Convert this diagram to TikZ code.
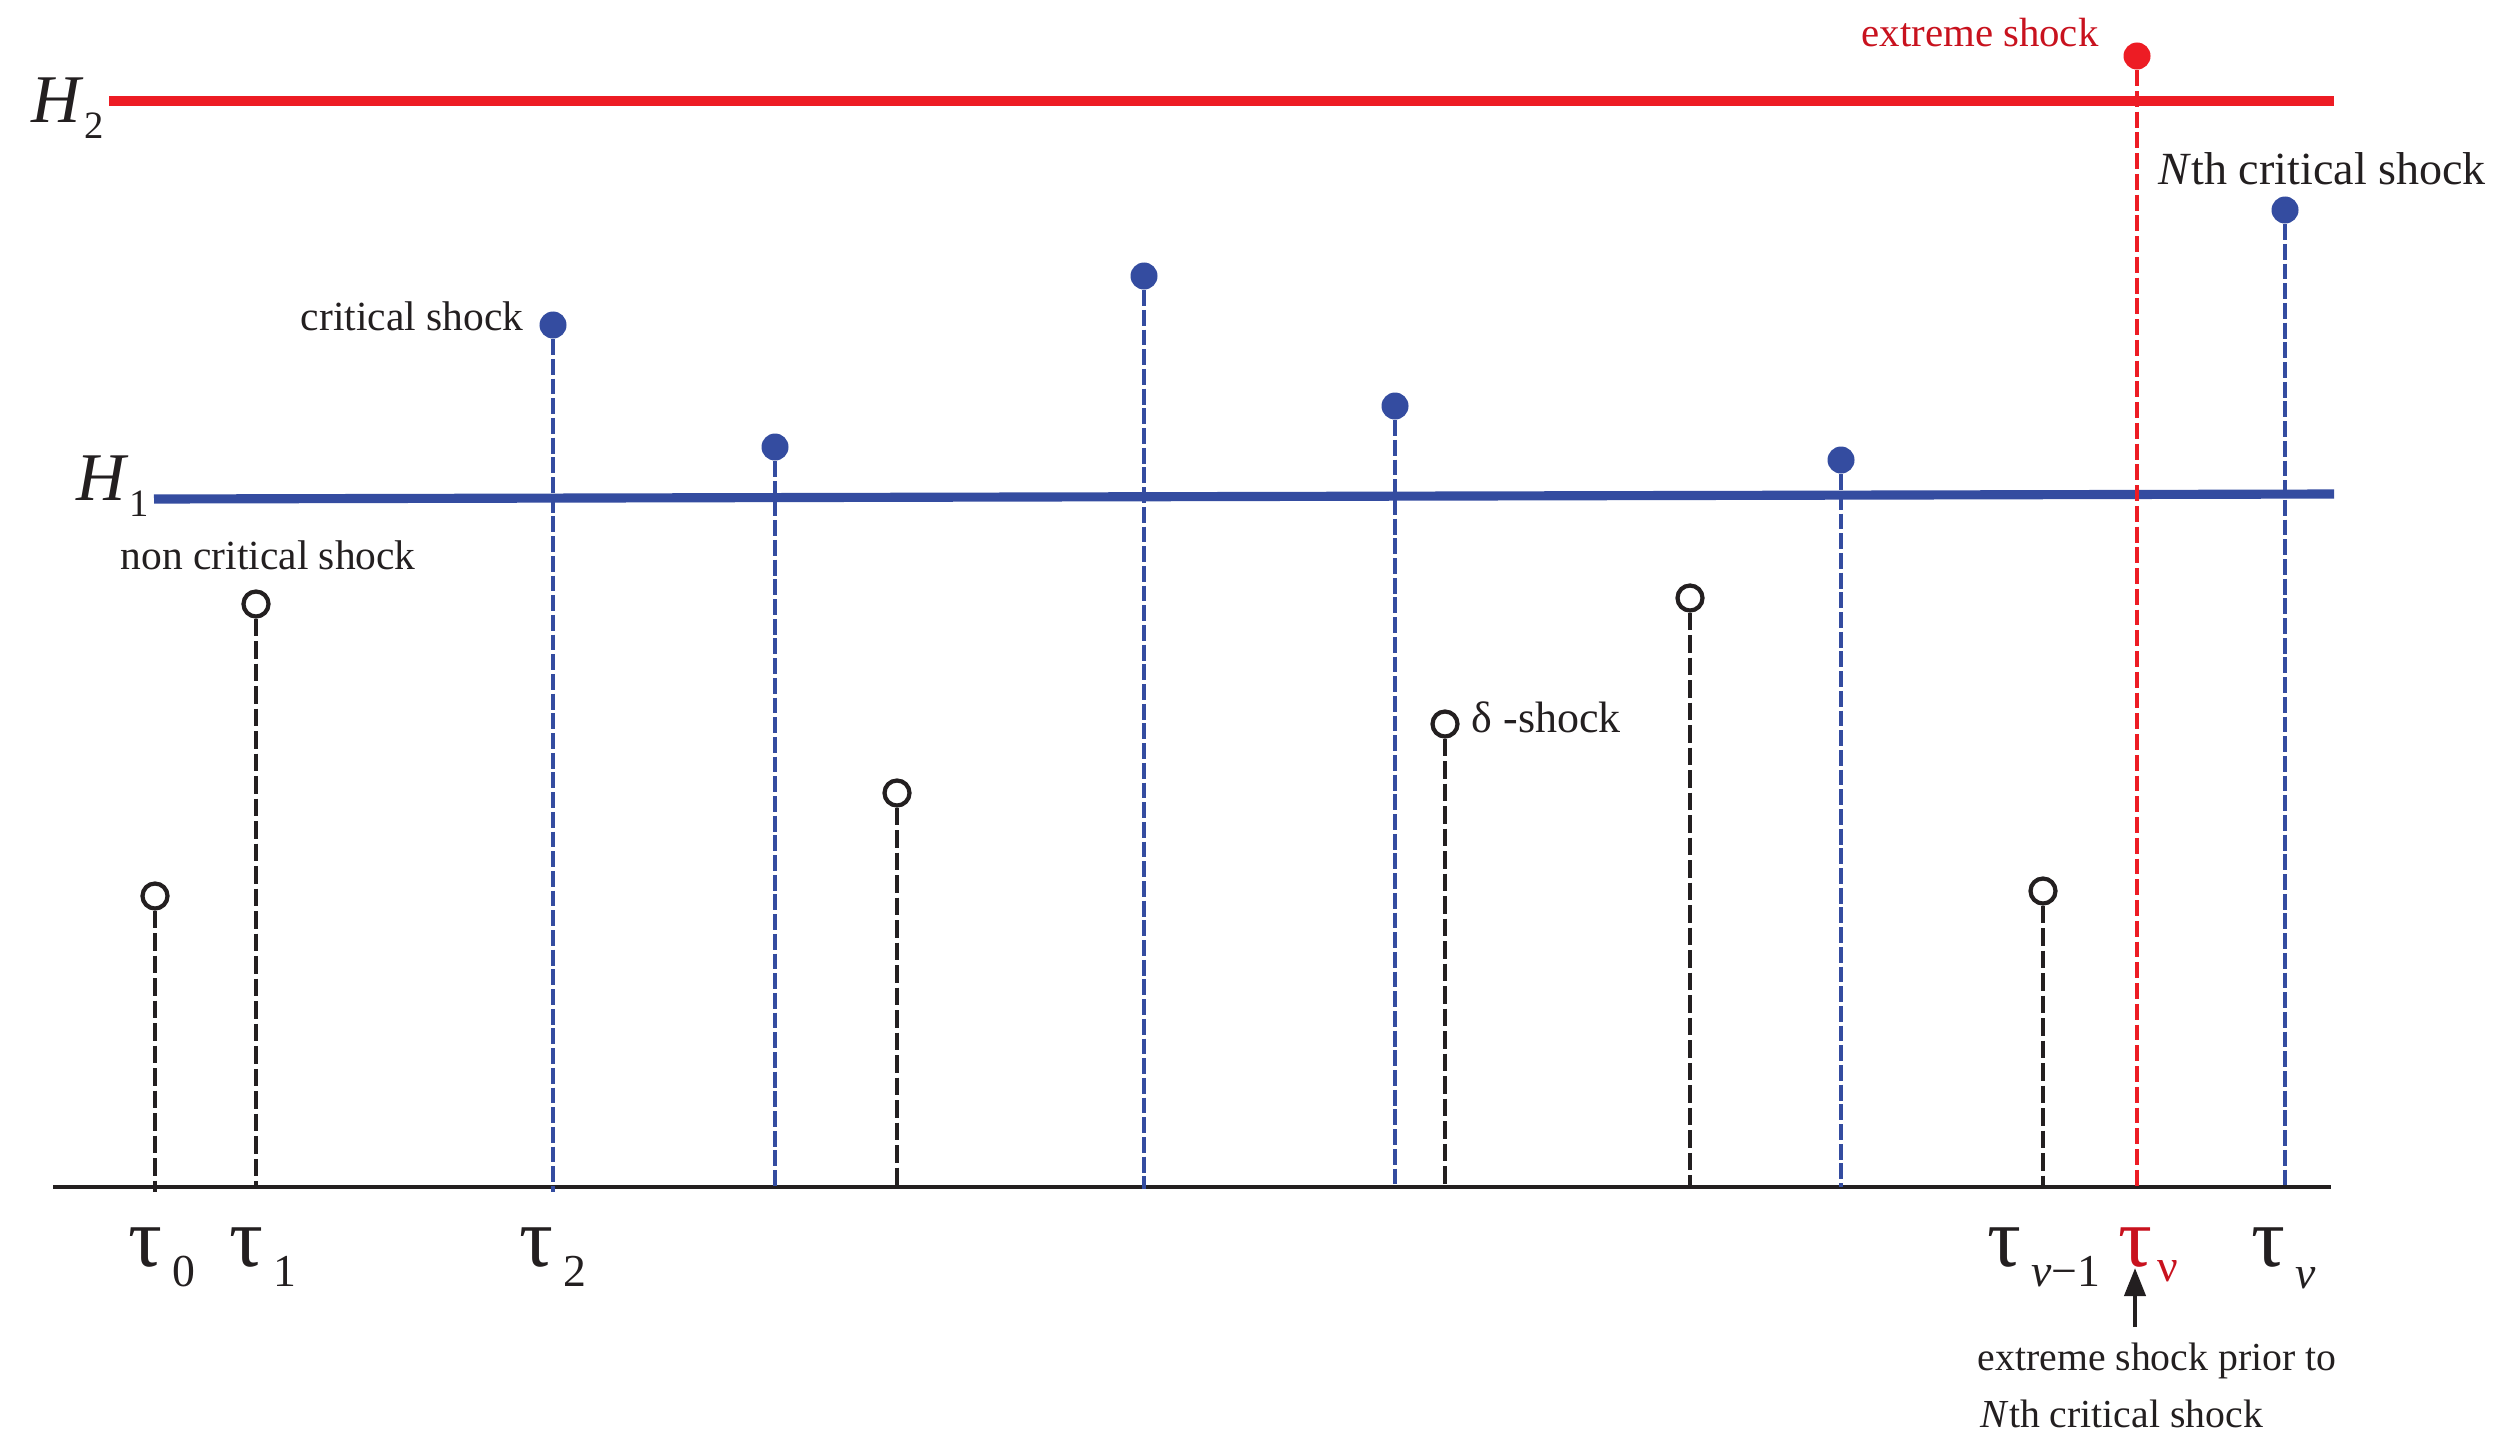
\documentclass[tikz,border=0pt]{standalone}
\usepackage{fontspec}
\setmainfont{Liberation Serif}
\usetikzlibrary{arrows.meta}
\definecolor{hred}{RGB}{237,28,36}
\definecolor{tred}{RGB}{200,18,30}
\definecolor{hblue}{RGB}{52,76,160}
\definecolor{ink}{RGB}{35,31,32}
\newcommand\fsz[1]{\fontsize{#1}{#1}\selectfont}
\begin{document}
\begin{tikzpicture}[x=0.01cm,y=-0.01cm,
  txt/.style={inner sep=0pt, anchor=base west, text=ink, font=\fsz{11.8}},
  dotopen/.style={circle, draw=ink, line width=1.2pt, fill=white, minimum size=0.25cm, inner sep=0pt},
  dotblue/.style={circle, fill=hblue, minimum size=0.27cm, inner sep=0pt},
  dotred/.style={circle, fill=hred, minimum size=0.27cm, inner sep=0pt},
  stemblack/.style={line width=1.4pt, dash pattern=on 5pt off 1.4pt, ink},
  stemblue/.style={line width=1pt, dash pattern=on 4.5pt off 1.1pt, hblue},
  stemred/.style={line width=1.2pt, dash pattern=on 4.5pt off 1.4pt, hred},
  level/.style={line width=2.6pt},
  ]
\useasboundingbox (0,0) rectangle (2512,1451);

% threshold levels
\coordinate (h2L) at (109,101);
\coordinate (h2R) at (2334,101);
\coordinate (h1L) at (154,499);
\coordinate (h1R) at (2334,494);
\draw[level, hred] (h2L) -- (h2R);
\draw[level, hblue] (h1L) -- (h1R);

% time axis
\coordinate (axL) at (53,1187);
\coordinate (axR) at (2331,1187);
\draw[line width=1.1pt, ink] (axL) -- (axR);

% shocks
\node[dotopen] (d1) at (155,896) {};
\coordinate (b1) at (155,1192);
\draw[stemblack] (d1.south) -- (b1);

\node[dotopen] (d2) at (256,604) {};
\coordinate (b2) at (256,1189);
\draw[stemblack] (d2.south) -- (b2);

\node[dotblue] (d3) at (553,325) {};
\coordinate (b3) at (553,1192);
\draw[stemblue] (d3.south) -- (b3);

\node[dotblue] (d4) at (775,447) {};
\coordinate (b4) at (775,1187);
\draw[stemblue] (d4.south) -- (b4);

\node[dotopen] (d5) at (897,793) {};
\coordinate (b5) at (897,1187);
\draw[stemblack] (d5.south) -- (b5);

\node[dotblue] (d6) at (1144,276) {};
\coordinate (b6) at (1144,1189);
\draw[stemblue] (d6.south) -- (b6);

\node[dotblue] (d7) at (1395,406) {};
\coordinate (b7) at (1395,1187);
\draw[stemblue] (d7.south) -- (b7);

\node[dotopen] (d8) at (1445,724) {};
\coordinate (b8) at (1445,1187);
\draw[stemblack] (d8.south) -- (b8);

\node[dotopen] (d9) at (1690,598) {};
\coordinate (b9) at (1690,1187);
\draw[stemblack] (d9.south) -- (b9);

\node[dotblue] (d10) at (1841,460) {};
\coordinate (b10) at (1841,1187);
\draw[stemblue] (d10.south) -- (b10);

\node[dotopen] (d11) at (2043,891) {};
\coordinate (b11) at (2043,1187);
\draw[stemblack] (d11.south) -- (b11);

\node[dotred] (d12) at (2137,56) {};
\coordinate (b12) at (2137,1187);
\draw[stemred] (d12.south) -- (b12);

\node[dotblue] (d13) at (2285,210) {};
\coordinate (b13) at (2285,1189);
\draw[stemblue] (d13.south) -- (b13);

% level labels
\node[txt, font=\fsz{19.4}] (lH2) at (31,122) {\textit{H}\raisebox{-0.16cm}{\fsz{11}2}};
\node[txt, font=\fsz{19.4}] (lH1) at (76,500) {\textit{H}\raisebox{-0.16cm}{\fsz{11}1}};

% shock labels
\node[txt, anchor=base east] (lcrit) at (524,330) {critical shock};
\node[txt] (lnon) at (120,569) {non critical shock};
\node[txt, font=\fsz{12.5}] (ldelta) at (1471,732) {δ -shock};
\node[txt, text=tred, font=\fsz{11.6}] (lext) at (1861,46) {extreme shock};
\node[txt, font=\fsz{13.1}] (lnth) at (2158,184) {\textit{N}th critical shock};
\node[txt, font=\fsz{11.3}] (lprior) at (1977,1370) {extreme shock prior to};
\node[txt, font=\fsz{11.3}] (lprior2) at (1980,1427) {\textit{N}th critical shock};

% time labels
\node[txt, font=\fsz{24}] (t0) at (128,1266) {τ\hspace{0.1cm}\raisebox{-0.2cm}{\fsz{13}0}};
\node[txt, font=\fsz{24}] (t1) at (229,1266) {τ\hspace{0.1cm}\raisebox{-0.2cm}{\fsz{13}1}};
\node[txt, font=\fsz{24}] (t2) at (519,1266) {τ\hspace{0.1cm}\raisebox{-0.2cm}{\fsz{13}2}};
\node[txt, font=\fsz{24}] (tvm) at (1987,1266) {τ\hspace{0.1cm}\raisebox{-0.2cm}{\fsz{13}\textit{v}−1}};
\node[txt, font=\fsz{24}, text=tred] (tnu) at (2118,1266) {τ\hspace{0.05cm}\raisebox{-0.15cm}{\fsz{13}ν}};
\node[txt, font=\fsz{24}] (tv) at (2251,1266) {τ\hspace{0.1cm}\raisebox{-0.22cm}{\fsz{13}\textit{v}}};

% arrow
\coordinate (abase) at (2135,1327);
\coordinate (atip) at (2135,1268);
\draw[line width=1.2pt, ink, -{Triangle[length=8pt,width=6pt]}] (abase) -- (atip);
\end{tikzpicture}
\end{document}
